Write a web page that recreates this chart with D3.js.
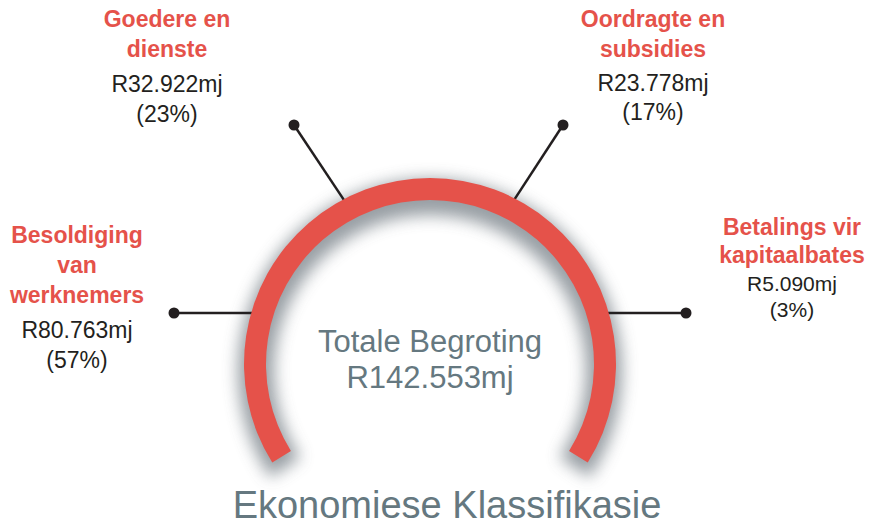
<!DOCTYPE html>
<html>
<head>
<meta charset="utf-8">
<script src="https://cdn.jsdelivr.net/npm/d3@7"></script>
<style>
  body { margin: 0; background: #fff; }
  svg { display: block; font-family: "Liberation Sans", Arial, sans-serif; }
</style>
</head>
<body>
<svg width="876" height="527"></svg>
<script>
// data
const categories = [
  ["Besoldiging", "van", "werknemers"],
  ["Goedere en", "dienste"],
  ["Oordragte en", "subsidies"],
  ["Betalings vir", "kapitaalbates"]
];
const amounts = [80.763, 32.922, 23.778, 5.090];   // R miljoen
const shares = [57, 23, 17, 3];                    // percent as printed
const total = 142.553;
const centreLines = ["Totale Begroting", "R" + total.toFixed(3) + "mj"];
const title = "Ekonomiese Klassifikasie";

// layout
const cx = 430, cy = 364, rOut = 186, rIn = 164;
const red = "#e5524a", grey = "#657880", ink = "#231f20";

// where each leader touches the ring (deg) and where its dot sits
const leaders = [
  {a: -73, dot: [-256, -51], lab: [77, 243], lh: [30, 30, 35, 30], fs: 23},
  {a: -27.5, dot: [-136, -239], lab: [167, 27], lh: [30, 35, 30], fs: 23},
  {a: 27, dot: [133, -239], lab: [653, 27], lh: [30, 34, 29], fs: 23},
  {a: 73, dot: [256, -51], lab: [792, 235], lh: [28, 28, 26], fs: 21}
];

const svg = d3.select("svg");

const defs = svg.append("defs");
const f = defs.append("filter").attr("id", "sh")
  .attr("x", "-30%").attr("y", "-30%").attr("width", "160%").attr("height", "160%");
f.append("feGaussianBlur").attr("stdDeviation", 8);

// angle scale: 0..total spread over the ring
const ang = d3.scaleLinear().domain([0, total]).range([-122 * Math.PI / 180, 122 * Math.PI / 180]);

const arc = d3.arc().innerRadius(rIn).outerRadius(rOut);
const g = svg.append("g").attr("transform", `translate(${cx},${cy})`);

// soft grey shadow under the ring
g.append("path")
  .attr("d", d3.arc().innerRadius(rIn - 8).outerRadius(rOut + 6)({startAngle: ang(0) - 0.03, endAngle: ang(total) + 0.03}))
  .attr("transform", "translate(0,7)")
  .attr("fill", "#7f878e")
  .attr("opacity", 0.8)
  .attr("filter", "url(#sh)");

// leader lines
leaders.forEach(function(d) {
  const t = d.a * Math.PI / 180;
  const r = rOut - 6;
  const x0 = Math.sin(t) * r;
  const y0 = Math.abs(d.a) > 60 ? d.dot[1] : -Math.cos(t) * r;
  g.append("line")
    .attr("x1", d.dot[0]).attr("y1", d.dot[1])
    .attr("x2", x0).attr("y2", y0)
    .attr("stroke", ink).attr("stroke-width", 2.5);
  g.append("circle")
    .attr("cx", d.dot[0]).attr("cy", d.dot[1]).attr("r", 5.5)
    .attr("fill", ink);
});

// the ring itself
g.append("path")
  .attr("d", arc({startAngle: ang(0), endAngle: ang(total)}))
  .attr("fill", red);

// centre text
g.append("text").attr("text-anchor", "middle").attr("y", -12)
  .attr("font-size", 31).attr("fill", grey).text(centreLines[0]);
g.append("text").attr("text-anchor", "middle").attr("y", 24)
  .attr("font-size", 31).attr("fill", grey).text(centreLines[1]);

// category labels
categories.forEach(function(lines, i) {
  const L = leaders[i];
  const t = svg.append("text").attr("text-anchor", "middle")
    .attr("x", L.lab[0]).attr("y", L.lab[1]).attr("font-size", 23);
  let y = 0;
  const rows = lines.map(s => ({s: s, bold: true}))
    .concat([{s: "R" + amounts[i].toFixed(3) + "mj"}, {s: "(" + shares[i] + "%)"}]);
  rows.forEach(function(r, j) {
    if (j > 0) y += L.lh[j - 1];
    t.append("tspan")
      .attr("x", L.lab[0]).attr("y", L.lab[1] + y)
      .attr("font-weight", r.bold ? "bold" : null)
      .attr("font-size", r.bold ? 23 : L.fs)
      .attr("fill", r.bold ? red : ink)
      .text(r.s);
  });
});

// title
svg.append("text").attr("text-anchor", "middle")
  .attr("x", 447).attr("y", 518)
  .attr("font-size", 38).attr("fill", grey).text(title);
</script>
</body>
</html>
